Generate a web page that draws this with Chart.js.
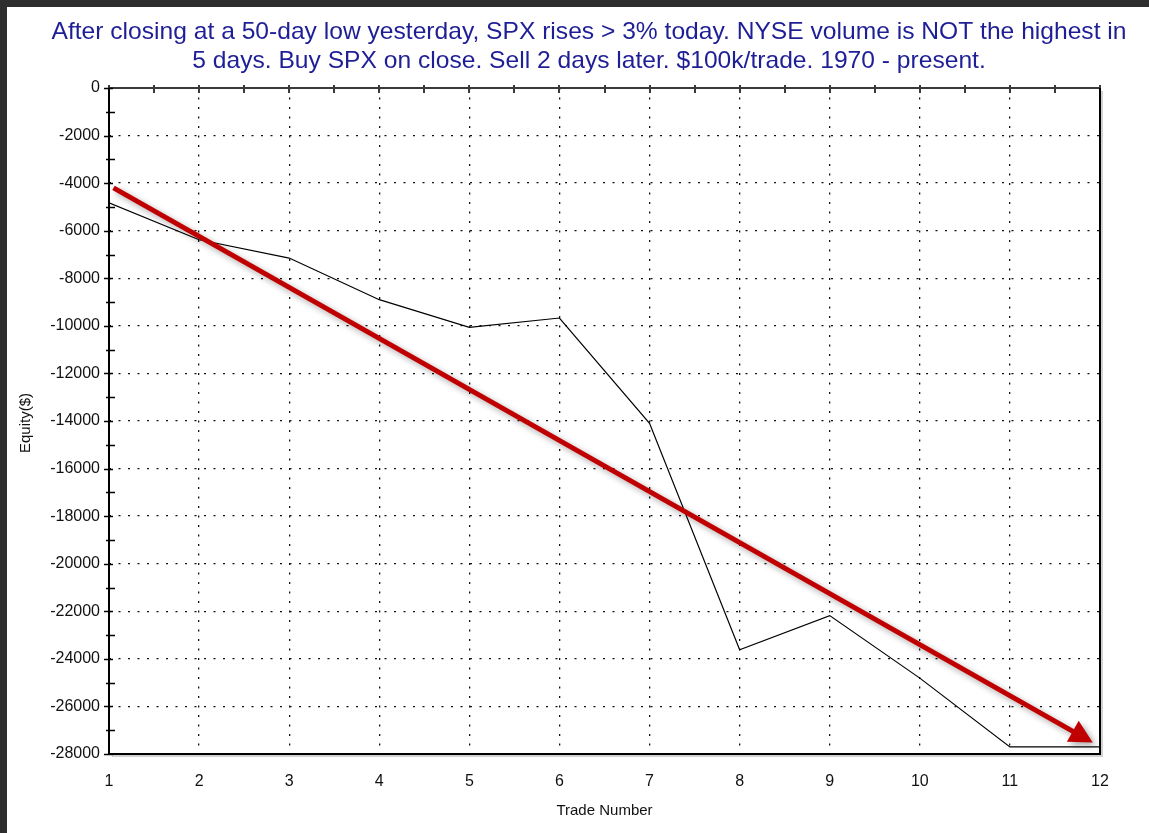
<!DOCTYPE html>
<html><head><meta charset="utf-8">
<script src="https://cdn.jsdelivr.net/npm/chart.js@4.4.1/dist/chart.umd.min.js"></script>
<style>
html,body{margin:0;padding:0;background:#fff;}
#wrap{position:relative;width:1149px;height:833px;overflow:hidden;background:#fff;}
#c{position:absolute;left:0;top:0;}
.bandT{position:absolute;left:0;top:0;width:1149px;height:7px;background:#2e2e2e;}
.bandL{position:absolute;left:0;top:0;width:7px;height:833px;background:#2e2e2e;}
</style></head><body>
<div id="wrap"><canvas id="c" width="1149" height="833"></canvas><div class="bandT"></div><div class="bandL"></div></div>
<script>
// ---- data ----
const titleLines = [
  "After closing at a 50-day low yesterday, SPX rises > 3% today. NYSE volume is NOT the highest in",
  "5 days. Buy SPX on close. Sell 2 days later. $100k/trade. 1970 - present."
];
const xAxisTitle = "Trade Number";
const yAxisTitle = "Equity($)";
const trades = [1, 2, 3, 4, 5, 6, 7, 8, 9, 10, 11, 12];
const equity = [-4830, -6380, -7150, -8900, -10060, -9670, -14100, -23620, -22180, -24810, -27700, -27700];
const trendTrade = [1.05, 11.92];
const trendEquity = [-4200, -27520];
const xTickMin = 1, xTickMax = 12, xTickStep = 1;
const yTickMin = -28000, yTickMax = 0, yTickStep = 2000;

const FONT = '"Liberation Sans", Arial, sans-serif';
const TITLE_COLOR = '#1e1e96';
const TEXT_COLOR = '#111111';
const RED = '#c00000';
const HEAD_LEN = 23, HEAD_HALF = 12;

const titlePlugin = {
  id: 'titleText',
  afterDraw(chart) {
    const ctx = chart.ctx;
    ctx.save();
    ctx.fillStyle = TITLE_COLOR;
    ctx.textAlign = 'center';
    ctx.textBaseline = 'alphabetic';
    ctx.font = '24px ' + FONT;
    const w = ctx.measureText(titleLines[0]).width;
    const sx = 1075 / w;
    titleLines.forEach((t, i) => {
      ctx.save();
      ctx.translate(589, 39 + i * 29);
      ctx.scale(sx, 1);
      ctx.fillText(t, 0, 0);
      ctx.restore();
    });
    // axis titles
    ctx.fillStyle = TEXT_COLOR;
    ctx.font = '15px ' + FONT;
    ctx.textBaseline = 'middle';
    const a = chart.chartArea;
    ctx.fillText(xAxisTitle, (a.left + a.right) / 2, 811);
    ctx.save();
    ctx.translate(26, (a.top + a.bottom) / 2 + 2);
    ctx.rotate(-Math.PI / 2);
    ctx.fillText(yAxisTitle, 0, 0);
    ctx.restore();
    ctx.restore();
  }
};

const framePlugin = {
  id: 'frame',
  beforeDatasetsDraw(chart) {
    const ctx = chart.ctx, a = chart.chartArea;
    const xs = chart.scales.x, ys = chart.scales.y;
    ctx.save();
    ctx.strokeStyle = 'rgba(0,0,0,0.18)';
    ctx.lineWidth = 2;
    ctx.beginPath();
    ctx.moveTo(a.right + 2, a.top + 3); ctx.lineTo(a.right + 2, a.bottom + 2); ctx.lineTo(a.left + 3, a.bottom + 2);
    ctx.stroke();
    ctx.strokeStyle = '#3a3a3a';
    ctx.lineWidth = 2;
    ctx.beginPath();
    ctx.moveTo(a.left, a.top); ctx.lineTo(a.right, a.top);
    ctx.stroke();
    ctx.beginPath();
    for (let v = xs.min; v <= xs.max + 1e-9; v += 0.5) {
      const px = Math.round(xs.getPixelForValue(v));
      ctx.moveTo(px, a.top - 3); ctx.lineTo(px, a.top + 5);
    }
    ctx.stroke();
    ctx.strokeStyle = '#000';
    ctx.lineWidth = 2;
    ctx.beginPath();
    ctx.moveTo(a.left, a.top); ctx.lineTo(a.left, a.bottom + 1);
    ctx.moveTo(a.right, a.top); ctx.lineTo(a.right, a.bottom + 1);
    ctx.moveTo(a.left, a.bottom); ctx.lineTo(a.right + 1, a.bottom);
    ctx.stroke();
    ctx.lineWidth = 1.6;
    ctx.beginPath();
    for (let v = ys.min; v <= ys.max + 1e-9; v += 1000) {
      const py = Math.round(ys.getPixelForValue(v)) + 0.5;
      if (Math.round(v) % 2000 === 0) { ctx.moveTo(a.left - 5, py); ctx.lineTo(a.left + 4, py); }
      else { ctx.moveTo(a.left - 3, py); ctx.lineTo(a.left + 6, py); }
    }
    ctx.stroke();
    ctx.restore();
  }
};

const arrowPlugin = {
  id: 'arrow',
  beforeDatasetDraw(chart, args) {
    const ds = chart.data.datasets[args.index];
    if (ds.label !== 'Trend') return;
    const ctx = chart.ctx;
    const pts = args.meta.data;
    const p0 = pts[0], p1 = pts[pts.length - 1];
    const dx = p1.x - p0.x, dy = p1.y - p0.y, L = Math.hypot(dx, dy);
    const ux = dx / L, uy = dy / L, nx = -uy, ny = ux;
    const bx = p1.x - ux * (HEAD_LEN - 2), by = p1.y - uy * (HEAD_LEN - 2);
    const big = 3000;
    ctx.save();
    ctx.beginPath();
    ctx.moveTo(bx + nx * big, by + ny * big);
    ctx.lineTo(bx - nx * big, by - ny * big);
    ctx.lineTo(bx - nx * big - ux * big, by - ny * big - uy * big);
    ctx.lineTo(bx + nx * big - ux * big, by + ny * big - uy * big);
    ctx.closePath();
    ctx.clip();
    ctx.shadowColor = 'rgba(0,0,0,0.35)';
    ctx.shadowBlur = 6;
    ctx.shadowOffsetX = 3;
    ctx.shadowOffsetY = 3;
  },
  afterDatasetDraw(chart, args) {
    const ds = chart.data.datasets[args.index];
    if (ds.label !== 'Trend') return;
    const ctx = chart.ctx;
    ctx.restore();
    const pts = args.meta.data;
    const p0 = pts[0], p1 = pts[pts.length - 1];
    const dx = p1.x - p0.x, dy = p1.y - p0.y, L = Math.hypot(dx, dy);
    const ux = dx / L, uy = dy / L, nx = -uy, ny = ux;
    const bx = p1.x - ux * HEAD_LEN, by = p1.y - uy * HEAD_LEN;
    ctx.save();
    ctx.shadowColor = 'rgba(0,0,0,0.35)';
    ctx.shadowBlur = 6;
    ctx.shadowOffsetX = 3;
    ctx.shadowOffsetY = 3;
    ctx.fillStyle = RED;
    ctx.beginPath();
    ctx.moveTo(p1.x, p1.y);
    ctx.lineTo(bx + nx * HEAD_HALF, by + ny * HEAD_HALF);
    ctx.lineTo(bx - nx * HEAD_HALF, by - ny * HEAD_HALF);
    ctx.closePath();
    ctx.fill();
    ctx.restore();
  }
};

const edgeTransparent = (lo, hi) => (c) => {
  if (!c.tick) return 'transparent';
  const v = c.tick.value;
  return (Math.abs(v - lo) < 1e-6 || Math.abs(v - hi) < 1e-6) ? 'transparent' : '#111111';
};

new Chart(document.getElementById('c'), {
  type: 'line',
  data: {
    datasets: [
      {
        label: 'Trend',
        data: trendTrade.map((x, i) => ({ x, y: trendEquity[i] })),
        borderColor: RED,
        borderWidth: 5,
        borderCapStyle: 'butt',
        pointRadius: 0,
        tension: 0,
        order: 0
      },
      {
        label: 'Equity',
        data: trades.map((x, i) => ({ x, y: equity[i] })),
        borderColor: '#000',
        borderWidth: 1.2,
        pointRadius: 0,
        tension: 0,
        order: 1
      }
    ]
  },
  options: {
    responsive: false,
    animation: false,
    devicePixelRatio: 1,
    layout: { padding: { left: 9, right: 49, top: 88, bottom: 0 } },
    plugins: { legend: { display: false }, tooltip: { enabled: false }, title: { display: false } },
    scales: {
      x: {
        type: 'linear',
        min: xTickMin, max: xTickMax,
        ticks: { stepSize: xTickStep, color: TEXT_COLOR, font: { family: FONT, size: 16 }, padding: 18, maxRotation: 0,
                 callback: (v) => String(v) },
        grid: { color: edgeTransparent(xTickMin, xTickMax), lineWidth: 1.3, drawTicks: false, borderDash: [2, 7.5] },
        border: { display: false, dash: [2, 7.5] },
        afterFit(s) { s.height = 79; }
      },
      y: {
        type: 'linear',
        min: yTickMin, max: yTickMax,
        ticks: { stepSize: yTickStep, color: TEXT_COLOR, font: { family: FONT, size: 16 }, padding: 9,
                 callback: (v) => String(v) },
        grid: { color: edgeTransparent(yTickMin, yTickMax), lineWidth: 1.3, drawTicks: false, borderDash: [2, 7.5] },
        border: { display: false, dash: [2, 7.5] },
        afterFit(s) { s.width = 100; }
      }
    }
  },
  plugins: [framePlugin, arrowPlugin, titlePlugin]
});
</script>
</body></html>
